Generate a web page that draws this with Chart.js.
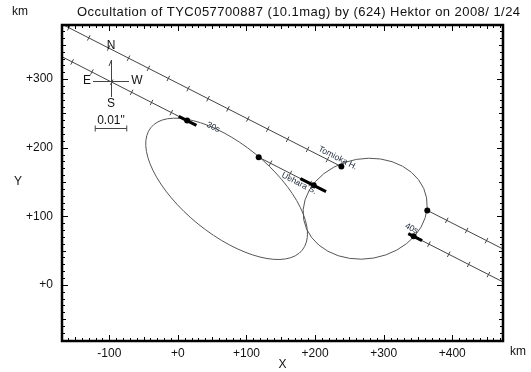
<!DOCTYPE html>
<html>
<head>
<meta charset="utf-8">
<script src="https://cdn.jsdelivr.net/npm/chart.js@4.4.1/dist/chart.umd.min.js"></script>
<style>
  html, body { margin: 0; padding: 0; background: #fff; }
  #wrap { width: 531px; height: 372px; position: relative; }
</style>
</head>
<body>
<div id="wrap"><canvas id="occ"></canvas></div>
<script>
// axis range and tick labels (km)
const xMin = -169, xMax = 474;
const yMin = -82, yMax = 379;
const xTickValues = [-100, 0, 100, 200, 300, 400];
const yTickValues = [0, 100, 200, 300];

// observer chords (null = hidden behind the body)
const tomiokaX = [-169, 238.3, null, 363.6, 474];
const tomiokaY = [380.1, 172.4, null, 108.5, 52.2];
const ueharaX = [-169, 13.4, null, 117.8, 198.0, null, 343.7, 474];
const ueharaY = [332.7, 239.5, null, 186.1, 145.1, null, 70.7, 4.1];

// one-second time marks along the chords
const tomiokaTickX = [-159, -130, -101, -72, -43, -14, 15, 44, 73, 102, 131, 160, 189, 218, 392, 421, 450];
const tomiokaTickY = [375.0, 360.2, 345.4, 330.6, 315.8, 301.0, 286.2, 271.5, 256.7, 241.9, 227.1, 212.3, 197.5, 182.7, 94.0, 79.2, 64.4];
const ueharaTickX = [-154.2, -125.4, -96.4, -67.5, -38.5, -9.6, 135.0, 164.0, 192.9, 366.0, 394.9, 423.9, 452.8];
const ueharaTickY = [325.1, 310.4, 295.6, 280.8, 266.0, 251.2, 177.3, 162.5, 147.7, 59.3, 44.5, 29.7, 14.9];

// disappearance / reappearance points
const eventX = [13.4, 117.8, 198.0, 238.3, 363.6, 343.7];
const eventY = [239.5, 186.1, 145.1, 172.4, 108.5, 70.7];

// timing error bars
const errFromX = [1.2, 178.6, 335.9];
const errFromY = [245.7, 155.0, 74.7];
const errToX = [27.0, 216.0, 356.0];
const errToY = [232.5, 135.9, 64.4];

// fitted outlines of the two lobes
const lobeCenterX = [71, 273];
const lobeCenterY = [140, 111];
const lobeSemiMajor = [142, 91];
const lobeSemiMinor = [66, 73];
const lobeTiltDeg = [-39, 10];

// time labels on the Uehara chord
const timeLabelText = ['30s', '40s'];
const timeLabelX = [47.5, 336.7];
const timeLabelY = [222.0, 74.2];

const scaleBarKm = 46;

function toPoints(xs, ys) {
    return xs.map((x, i) => (x === null ? { x: null, y: null } : { x: x, y: ys[i] }));
}

function segmentPoints(fx, fy, tx, ty) {
    const out = [];
    fx.forEach((x, i) => {
        out.push({ x: x, y: fy[i] }, { x: tx[i], y: ty[i] }, { x: null, y: null });
    });
    return out;
}

function signed(v) {
    return v > 0 || v === 0 ? '+' + v : '' + v;
}

const FONT = '"Liberation Sans", Arial, sans-serif';

const lobes = {
    id: 'lobes',
    beforeDatasetsDraw(chart) {
        const { ctx, chartArea: a, scales: { x, y } } = chart;
        const k = Math.abs(x.getPixelForValue(1) - x.getPixelForValue(0));
        ctx.save();
        ctx.beginPath();
        ctx.rect(a.left, a.top, a.right - a.left, a.bottom - a.top);
        ctx.clip();
        ctx.strokeStyle = '#555';
        ctx.lineWidth = 1;
        lobeCenterX.forEach((cx, i) => {
            ctx.beginPath();
            ctx.ellipse(x.getPixelForValue(cx), y.getPixelForValue(lobeCenterY[i]),
                lobeSemiMajor[i] * k, lobeSemiMinor[i] * k,
                -lobeTiltDeg[i] * Math.PI / 180, 0, Math.PI * 2);
            ctx.stroke();
        });
        ctx.restore();
    }
};

const decorations = {
    id: 'decorations',
    afterDraw(chart) {
        const { ctx, chartArea: a, scales: { x, y } } = chart;
        ctx.save();

        // chord labels, rotated along the chord
        const ang = Math.atan2(
            y.getPixelForValue(ueharaY[7]) - y.getPixelForValue(ueharaY[0]),
            x.getPixelForValue(ueharaX[7]) - x.getPixelForValue(ueharaX[0]));
        const rotText = (txt, vx, vy, dn, size) => {
            ctx.save();
            ctx.translate(x.getPixelForValue(vx), y.getPixelForValue(vy));
            ctx.rotate(ang);
            ctx.font = size + 'px ' + FONT;
            ctx.fillStyle = '#1e2838';
            ctx.textAlign = 'center';
            ctx.textBaseline = 'middle';
            ctx.fillText(txt, 0, dn);
            ctx.restore();
        };
        timeLabelText.forEach((t, i) => rotText(t, timeLabelX[i], timeLabelY[i], -6, 8.5));
        rotText('Tomioka H.', 229.0, 177.1, -6, 8.5);
        rotText('Uehara S.', 180.0, 154.3, 5, 8.5);

        // frame ticks pointing inward
        ctx.strokeStyle = '#000';
        ctx.lineWidth = 1;
        ctx.beginPath();
        for (let v = Math.ceil(x.min / 10) * 10; v <= x.max; v += 10) {
            const p = Math.round(x.getPixelForValue(v)) + 0.5;
            const len = v % 100 === 0 ? 6 : (v % 50 === 0 ? 4 : 3);
            ctx.moveTo(p, a.bottom); ctx.lineTo(p, a.bottom - len);
            ctx.moveTo(p, a.top); ctx.lineTo(p, a.top + len);
        }
        for (let v = Math.ceil(y.min / 10) * 10; v <= y.max; v += 10) {
            const p = Math.round(y.getPixelForValue(v)) + 0.5;
            const len = v % 100 === 0 ? 6 : (v % 50 === 0 ? 4 : 3);
            ctx.moveTo(a.left, p); ctx.lineTo(a.left + len, p);
            ctx.moveTo(a.right, p); ctx.lineTo(a.right - len, p);
        }
        ctx.stroke();
        ctx.lineWidth = 2.5;
        ctx.strokeRect(a.left, a.top, a.right - a.left, a.bottom - a.top);

        // compass
        const cx = a.left + 49, cy = a.top + 56;
        ctx.strokeStyle = '#444';
        ctx.lineWidth = 1;
        ctx.beginPath();
        ctx.moveTo(cx + 0.5, cy - 21); ctx.lineTo(cx + 0.5, cy + 16);
        ctx.moveTo(cx - 18, cy + 0.5); ctx.lineTo(cx + 18, cy + 0.5);
        ctx.moveTo(cx - 2, cy - 15); ctx.lineTo(cx + 0.5, cy - 21);
        ctx.stroke();
        ctx.fillStyle = '#111';
        ctx.font = '12px ' + FONT;
        ctx.textAlign = 'center';
        ctx.textBaseline = 'middle';
        ctx.fillText('N', cx, cy - 35);
        ctx.fillText('S', cx, cy + 23);
        ctx.fillText('E', cx - 24, cy);
        ctx.fillText('W', cx + 26, cy);

        // 0.01" scale bar
        const half = scaleBarKm * Math.abs(x.getPixelForValue(1) - x.getPixelForValue(0)) / 2;
        const by = cy + 47.5;
        ctx.fillText('0.01"', cx, cy + 40);
        ctx.beginPath();
        ctx.moveTo(cx - half, by); ctx.lineTo(cx + half, by);
        ctx.moveTo(cx - half, by - 3); ctx.lineTo(cx - half, by + 3);
        ctx.moveTo(cx + half, by - 3); ctx.lineTo(cx + half, by + 3);
        ctx.stroke();

        // title and unit labels
        ctx.fillStyle = '#111';
        ctx.textAlign = 'center';
        ctx.fillText('km', 20, 12);
        ctx.fillText('km', 518, 352);
        ctx.fillText('Y', 18, 182);
        ctx.font = '13px ' + FONT;
        ctx.textAlign = 'left';
        if ('letterSpacing' in ctx) ctx.letterSpacing = '0.45px';
        ctx.fillText('Occultation of TYC057700887 (10.1mag) by (624) Hektor on 2008/ 1/24', 77, 12);
        ctx.restore();
    }
};

const lineStyle = { showLine: true, pointRadius: 0, borderColor: '#444', borderWidth: 1, fill: false };
const tickStyle = { showLine: false, pointStyle: 'line', rotation: 117, pointRadius: 3, borderColor: '#444', borderWidth: 1 };

new Chart(document.getElementById('occ'), {
    type: 'scatter',
    data: {
        datasets: [
            Object.assign({ label: 'Tomioka H.', data: toPoints(tomiokaX, tomiokaY), order: 5 }, lineStyle),
            Object.assign({ label: 'Uehara S.', data: toPoints(ueharaX, ueharaY), order: 5 }, lineStyle),
            Object.assign({ label: 'Tomioka ticks', data: toPoints(tomiokaTickX, tomiokaTickY), order: 4 }, tickStyle),
            Object.assign({ label: 'Uehara ticks', data: toPoints(ueharaTickX, ueharaTickY), order: 4 }, tickStyle),
            {
                label: 'error',
                data: segmentPoints(errFromX, errFromY, errToX, errToY),
                showLine: true, pointRadius: 0, borderColor: '#000', borderWidth: 3, order: 2
            },
            {
                label: 'events',
                data: toPoints(eventX, eventY),
                showLine: false, pointRadius: 3, pointStyle: 'circle',
                backgroundColor: '#000', borderColor: '#000', borderWidth: 0, order: 1
            }
        ]
    },
    options: {
        responsive: true,
        maintainAspectRatio: false,
        animation: false,
        events: [],
        layout: { padding: { left: 0, right: 28, top: 25, bottom: 0 } },
        plugins: {
            legend: { display: false },
            tooltip: { enabled: false },
            title: { display: false }
        },
        scales: {
            x: {
                type: 'linear',
                min: xMin,
                max: xMax,
                afterBuildTicks: s => { s.ticks = xTickValues.map(v => ({ value: v })); },
                afterFit: s => { s.height = 31; },
                grid: { display: false, drawTicks: false },
                border: { display: false },
                ticks: {
                    padding: 5,
                    autoSkip: false,
                    maxRotation: 0,
                    color: '#111',
                    font: { size: 12, family: FONT },
                    callback: v => signed(v)
                },
                title: {
                    display: true, text: 'X', padding: 0, color: '#111',
                    font: { size: 12, family: FONT }
                }
            },
            y: {
                type: 'linear',
                min: yMin,
                max: yMax,
                afterBuildTicks: s => { s.ticks = yTickValues.map(v => ({ value: v })); },
                afterFit: s => { s.width = 62; },
                grid: { display: false, drawTicks: false },
                border: { display: false },
                ticks: {
                    padding: 9,
                    autoSkip: false,
                    color: '#111',
                    font: { size: 12, family: FONT },
                    callback: v => signed(v)
                }
            }
        }
    },
    plugins: [lobes, decorations]
});
</script>
</body>
</html>
